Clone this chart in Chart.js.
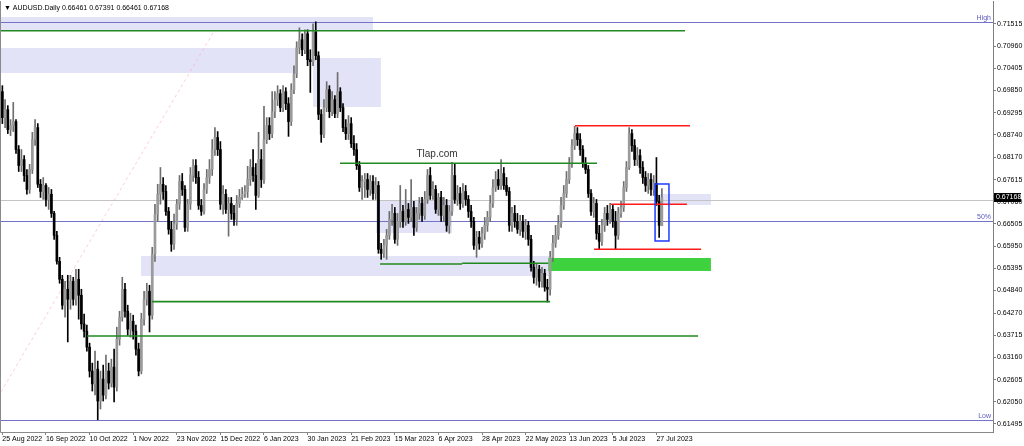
<!DOCTYPE html>
<html>
<head>
<meta charset="utf-8">
<script src="https://cdn.jsdelivr.net/npm/chart.js@4.4.0/dist/chart.umd.min.js"></script>
<style>
  html, body { margin: 0; padding: 0; background: #fff; }
  #wrap { width: 1024px; height: 446px; }
</style>
</head>
<body>
<div id="wrap"><canvas id="chart" width="1024" height="446"></canvas></div>
<script>
// AUDUSD daily candles, 25 Aug 2022 -> 1 Aug 2023
const opens = [
  0.6982, 0.6917, 0.6937, 0.6887, 0.6897, 0.6907, 0.6837, 0.6797, 0.6812, 0.6772,
  0.6737, 0.6787, 0.6862, 0.6892, 0.6750, 0.6732, 0.6747, 0.6712, 0.6725, 0.6677,
  0.6622, 0.6557, 0.6512, 0.6447, 0.6487, 0.6462, 0.6507, 0.6462, 0.6512, 0.6472,
  0.6400, 0.6382, 0.6342, 0.6282, 0.6250, 0.6287, 0.6207, 0.6262, 0.6222, 0.6282,
  0.6252, 0.6292, 0.6242, 0.6362, 0.6417, 0.6487, 0.6432, 0.6387, 0.6407, 0.6382,
  0.6337, 0.6282, 0.6412, 0.6462, 0.6482, 0.6422, 0.6575, 0.6675, 0.6725, 0.6750,
  0.6732, 0.6682, 0.6637, 0.6600, 0.6650, 0.6700, 0.6757, 0.6737, 0.6642, 0.6700,
  0.6772, 0.6797, 0.6767, 0.6697, 0.6682, 0.6737, 0.6767, 0.6787, 0.6837, 0.6867,
  0.6837, 0.6700, 0.6725, 0.6687, 0.6702, 0.6677, 0.6662, 0.6702, 0.6717, 0.6725,
  0.6732, 0.6762, 0.6792, 0.6772, 0.6722, 0.6812, 0.6762, 0.6862, 0.6897, 0.6877,
  0.6932, 0.6962, 0.6977, 0.6942, 0.6982, 0.6952, 0.6907, 0.6987, 0.7027, 0.7092,
  0.7112, 0.7087, 0.7127, 0.7062, 0.7057, 0.7132, 0.7072, 0.6925, 0.6875, 0.6942,
  0.6987, 0.6932, 0.6962, 0.6927, 0.6982, 0.6942, 0.6892, 0.6877, 0.6902, 0.6852,
  0.6837, 0.6797, 0.6742, 0.6757, 0.6762, 0.6737, 0.6757, 0.6727, 0.6747, 0.6587,
  0.6577, 0.6597, 0.6622, 0.6662, 0.6677, 0.6612, 0.6657, 0.6682, 0.6657, 0.6687,
  0.6667, 0.6692, 0.6642, 0.6677, 0.6702, 0.6672, 0.6712, 0.6772, 0.6722, 0.6737,
  0.6687, 0.6717, 0.6672, 0.6697, 0.6647, 0.6682, 0.6772, 0.6712, 0.6727, 0.6702,
  0.6732, 0.6712, 0.6682, 0.6657, 0.6597, 0.6617, 0.6602, 0.6627, 0.6647, 0.6667,
  0.6702, 0.6742, 0.6762, 0.6747, 0.6777, 0.6747, 0.6732, 0.6647, 0.6677, 0.6657,
  0.6637, 0.6657, 0.6632, 0.6647, 0.6612, 0.6542, 0.6517, 0.6537, 0.6507, 0.6527,
  0.6492, 0.6487, 0.6567, 0.6602, 0.6622, 0.6652, 0.6697, 0.6727, 0.6762, 0.6802,
  0.6847, 0.6877, 0.6862, 0.6837, 0.6802, 0.6787, 0.6727, 0.6682, 0.6702, 0.6627,
  0.6607, 0.6647, 0.6677, 0.6662, 0.6687, 0.6657, 0.6622, 0.6677, 0.6692, 0.6742,
  0.6792, 0.6877, 0.6847, 0.6812, 0.6822, 0.6792, 0.6767, 0.6747, 0.6762, 0.6737,
  0.6752, 0.6707, 0.66461
];
const highs = [
  0.6997, 0.6962, 0.6947, 0.6912, 0.6955, 0.6912, 0.6847, 0.6837, 0.6822, 0.6787,
  0.6800, 0.6880, 0.6912, 0.6902, 0.6762, 0.6767, 0.6752, 0.6742, 0.6737, 0.6682,
  0.6632, 0.6567, 0.6522, 0.6507, 0.6522, 0.6522, 0.6517, 0.6537, 0.6537, 0.6487,
  0.6425, 0.6397, 0.6352, 0.6302, 0.6332, 0.6307, 0.6282, 0.6297, 0.6322, 0.6302,
  0.6312, 0.6337, 0.6392, 0.6432, 0.6517, 0.6502, 0.6447, 0.6427, 0.6422, 0.6397,
  0.6352, 0.6427, 0.6482, 0.6502, 0.6497, 0.6592, 0.6700, 0.6750, 0.6792, 0.6767,
  0.6747, 0.6692, 0.6657, 0.6675, 0.6712, 0.6772, 0.6777, 0.6747, 0.6712, 0.6792,
  0.6812, 0.6812, 0.6782, 0.6712, 0.6752, 0.6787, 0.6812, 0.6862, 0.6892, 0.6882,
  0.6857, 0.6747, 0.6737, 0.6717, 0.6717, 0.6697, 0.6722, 0.6737, 0.6742, 0.6747,
  0.6795, 0.6812, 0.6837, 0.6802, 0.6880, 0.6837, 0.6945, 0.6917, 0.6917, 0.6982,
  0.6982, 0.6997, 0.6987, 0.6997, 0.6992, 0.6967, 0.7002, 0.7047, 0.7107, 0.7142,
  0.7127, 0.7137, 0.7137, 0.7087, 0.7152, 0.7157, 0.7082, 0.6937, 0.6962, 0.7007,
  0.6997, 0.6982, 0.6972, 0.7030, 0.6992, 0.6952, 0.6912, 0.6922, 0.6917, 0.6872,
  0.6852, 0.6807, 0.6772, 0.6777, 0.6777, 0.6772, 0.6772, 0.6767, 0.6757, 0.6602,
  0.6612, 0.6637, 0.6682, 0.6700, 0.6692, 0.6677, 0.6747, 0.6697, 0.6737, 0.6702,
  0.6762, 0.6707, 0.6692, 0.6717, 0.6717, 0.6732, 0.6787, 0.6792, 0.6757, 0.6747,
  0.6727, 0.6732, 0.6717, 0.6712, 0.6697, 0.6805, 0.6802, 0.6747, 0.6742, 0.6752,
  0.6747, 0.6722, 0.6697, 0.6667, 0.6632, 0.6632, 0.6642, 0.6667, 0.6682, 0.6722,
  0.6762, 0.6782, 0.6787, 0.6812, 0.6792, 0.6767, 0.6742, 0.6692, 0.6697, 0.6677,
  0.6672, 0.6672, 0.6662, 0.6657, 0.6622, 0.6557, 0.6552, 0.6547, 0.6542, 0.6537,
  0.6512, 0.6582, 0.6622, 0.6647, 0.6672, 0.6717, 0.6747, 0.6782, 0.6817, 0.6862,
  0.6895, 0.6892, 0.6877, 0.6847, 0.6817, 0.6797, 0.6737, 0.6717, 0.6712, 0.6647,
  0.6662, 0.6692, 0.6697, 0.6702, 0.6697, 0.6682, 0.6692, 0.6707, 0.6757, 0.6807,
  0.6892, 0.6887, 0.6862, 0.6842, 0.6837, 0.6807, 0.6782, 0.6777, 0.6777, 0.6772,
  0.6817, 0.6722, 0.67391
];
const lows = [
  0.6902, 0.6892, 0.6877, 0.6872, 0.6882, 0.6827, 0.6782, 0.6782, 0.6757, 0.6725,
  0.6727, 0.6777, 0.6847, 0.6742, 0.6717, 0.6712, 0.6695, 0.6687, 0.6667, 0.6612,
  0.6550, 0.6502, 0.6437, 0.6417, 0.6355, 0.6437, 0.6447, 0.6447, 0.6412, 0.6387,
  0.6367, 0.6332, 0.6267, 0.6232, 0.6222, 0.6160, 0.6187, 0.6207, 0.6212, 0.6237,
  0.6242, 0.6205, 0.6232, 0.6347, 0.6407, 0.6417, 0.6372, 0.6367, 0.6362, 0.6322,
  0.6270, 0.6275, 0.6397, 0.6447, 0.6380, 0.6412, 0.6557, 0.6657, 0.6700, 0.6712,
  0.6672, 0.6625, 0.6582, 0.6587, 0.6637, 0.6687, 0.6722, 0.6632, 0.6632, 0.6687,
  0.6757, 0.6752, 0.6687, 0.6672, 0.6675, 0.6727, 0.6752, 0.6772, 0.6822, 0.6822,
  0.6687, 0.6675, 0.6677, 0.6620, 0.6662, 0.6647, 0.6647, 0.6692, 0.6712, 0.6717,
  0.6717, 0.6747, 0.6757, 0.6687, 0.6717, 0.6742, 0.6752, 0.6852, 0.6862, 0.6867,
  0.6917, 0.6947, 0.6932, 0.6932, 0.6937, 0.6870, 0.6897, 0.6977, 0.7017, 0.7077,
  0.7072, 0.7077, 0.7047, 0.6980, 0.7047, 0.7062, 0.6912, 0.6855, 0.6867, 0.6932,
  0.6917, 0.6922, 0.6917, 0.6917, 0.6932, 0.6882, 0.6862, 0.6862, 0.6842, 0.6822,
  0.6787, 0.6732, 0.6712, 0.6717, 0.6717, 0.6722, 0.6712, 0.6712, 0.6577, 0.6562,
  0.6567, 0.6562, 0.6612, 0.6647, 0.6602, 0.6597, 0.6642, 0.6642, 0.6647, 0.6652,
  0.6657, 0.6622, 0.6632, 0.6662, 0.6657, 0.6662, 0.6702, 0.6712, 0.6712, 0.6677,
  0.6672, 0.6657, 0.6657, 0.6632, 0.6627, 0.6672, 0.6702, 0.6697, 0.6687, 0.6692,
  0.6697, 0.6667, 0.6642, 0.6587, 0.6567, 0.6587, 0.6592, 0.6612, 0.6632, 0.6657,
  0.6692, 0.6732, 0.6737, 0.6737, 0.6737, 0.6722, 0.6632, 0.6632, 0.6642, 0.6627,
  0.6622, 0.6617, 0.6612, 0.6597, 0.6532, 0.6502, 0.6497, 0.6492, 0.6492, 0.6482,
  0.6455, 0.6472, 0.6557, 0.6592, 0.6612, 0.6642, 0.6687, 0.6717, 0.6752, 0.6792,
  0.6837, 0.6847, 0.6822, 0.6792, 0.6777, 0.6717, 0.6672, 0.6667, 0.6612, 0.6587,
  0.6597, 0.6632, 0.6647, 0.6652, 0.6642, 0.6587, 0.6612, 0.6667, 0.6682, 0.6732,
  0.6787, 0.6832, 0.6797, 0.6797, 0.6777, 0.6752, 0.6732, 0.6727, 0.6722, 0.6722,
  0.6697, 0.6617, 0.66461
];
const closes = [
  0.6917, 0.6937, 0.6887, 0.6897, 0.6907, 0.6837, 0.6797, 0.6812, 0.6772, 0.6737,
  0.6787, 0.6862, 0.6892, 0.6750, 0.6732, 0.6747, 0.6712, 0.6725, 0.6677, 0.6622,
  0.6557, 0.6512, 0.6447, 0.6487, 0.6462, 0.6507, 0.6462, 0.6512, 0.6472, 0.6400,
  0.6382, 0.6342, 0.6282, 0.6250, 0.6287, 0.6207, 0.6262, 0.6222, 0.6282, 0.6252,
  0.6292, 0.6242, 0.6362, 0.6417, 0.6487, 0.6432, 0.6387, 0.6407, 0.6382, 0.6337,
  0.6282, 0.6412, 0.6462, 0.6482, 0.6422, 0.6575, 0.6675, 0.6725, 0.6750, 0.6732,
  0.6682, 0.6637, 0.6600, 0.6650, 0.6700, 0.6757, 0.6737, 0.6642, 0.6700, 0.6772,
  0.6797, 0.6767, 0.6697, 0.6682, 0.6737, 0.6767, 0.6787, 0.6837, 0.6867, 0.6837,
  0.6700, 0.6725, 0.6687, 0.6702, 0.6677, 0.6662, 0.6702, 0.6717, 0.6725, 0.6732,
  0.6762, 0.6792, 0.6772, 0.6722, 0.6812, 0.6762, 0.6862, 0.6897, 0.6877, 0.6932,
  0.6962, 0.6977, 0.6942, 0.6982, 0.6952, 0.6907, 0.6987, 0.7027, 0.7092, 0.7112,
  0.7087, 0.7127, 0.7062, 0.7057, 0.7132, 0.7072, 0.6925, 0.6875, 0.6942, 0.6987,
  0.6932, 0.6962, 0.6927, 0.6982, 0.6942, 0.6892, 0.6877, 0.6902, 0.6852, 0.6837,
  0.6797, 0.6742, 0.6757, 0.6762, 0.6737, 0.6757, 0.6727, 0.6747, 0.6587, 0.6577,
  0.6597, 0.6622, 0.6662, 0.6677, 0.6612, 0.6657, 0.6682, 0.6657, 0.6687, 0.6667,
  0.6692, 0.6642, 0.6677, 0.6702, 0.6672, 0.6712, 0.6772, 0.6722, 0.6737, 0.6687,
  0.6717, 0.6672, 0.6697, 0.6647, 0.6682, 0.6772, 0.6712, 0.6727, 0.6702, 0.6732,
  0.6712, 0.6682, 0.6657, 0.6597, 0.6617, 0.6602, 0.6627, 0.6647, 0.6667, 0.6702,
  0.6742, 0.6762, 0.6747, 0.6777, 0.6747, 0.6732, 0.6647, 0.6677, 0.6657, 0.6637,
  0.6657, 0.6632, 0.6647, 0.6612, 0.6542, 0.6517, 0.6537, 0.6507, 0.6527, 0.6492,
  0.6487, 0.6567, 0.6602, 0.6622, 0.6652, 0.6697, 0.6727, 0.6762, 0.6802, 0.6847,
  0.6877, 0.6862, 0.6837, 0.6802, 0.6787, 0.6727, 0.6682, 0.6702, 0.6627, 0.6607,
  0.6647, 0.6677, 0.6662, 0.6687, 0.6657, 0.6622, 0.6677, 0.6692, 0.6742, 0.6792,
  0.6877, 0.6847, 0.6812, 0.6822, 0.6792, 0.6767, 0.6747, 0.6762, 0.6737, 0.6752,
  0.6707, 0.6647, 0.67168
];

// date labels under the x axis, one every 16 bars
const tickLabels = [
  '25 Aug 2022', '16 Sep 2022', '10 Oct 2022', '1 Nov 2022', '23 Nov 2022', '15 Dec 2022',
  '6 Jan 2023', '30 Jan 2023', '21 Feb 2023', '15 Mar 2023', '6 Apr 2023', '28 Apr 2023',
  '22 May 2023', '13 Jun 2023', '5 Jul 2023', '27 Jul 2023'
];
const tickEvery = 16;
const priceTicks = [
  0.71515, 0.70960, 0.70405, 0.69850, 0.69295, 0.68740, 0.68170, 0.67615, 0.67060, 0.66505,
  0.65950, 0.65395, 0.64840, 0.64270, 0.63715, 0.63160, 0.62605, 0.62050, 0.61495
];
const emptyBars = 121; // free space right of the last candle

// bar dates (weekdays, like the terminal does)
const monthNames = ['Jan', 'Feb', 'Mar', 'Apr', 'May', 'Jun', 'Jul', 'Aug', 'Sep', 'Oct', 'Nov', 'Dec'];
const categories = [];
let day = new Date(2022, 7, 25);
while (categories.length < closes.length) {
  if (day.getDay() !== 0 && day.getDay() !== 6) {
    categories.push(day.getDate() + ' ' + monthNames[day.getMonth()] + ' ' + day.getFullYear());
  }
  day.setDate(day.getDate() + 1);
}
for (let i = 0; i < emptyBars; i++) categories.push('');

// drawn objects, in bar index / price units
const zones = [
  { from: -1, to: 136, top: 0.71690, bottom: 0.71340 },
  { from: -1, to: 108.1, top: 0.70914, bottom: 0.70288 },
  { from: 114, to: 138.9, top: 0.70663, bottom: 0.69436 },
  { from: 137.1, to: 165, top: 0.67106, bottom: 0.66280 },
  { from: 50.9, to: 200.6, top: 0.65703, bottom: 0.65202 },
  { from: 239.5, to: 260, top: 0.67257, bottom: 0.66981 }
];
const demandZone = { from: 200.3, to: 260, top: 0.65653, bottom: 0.65328 };
const signalBox = { from: 239.5, to: 244.6, top: 0.67507, bottom: 0.66079 };
const greenLines = [
  { from: -1, to: 250.5, price: 0.71347 },
  { from: 123.9, to: 218.2, price: 0.68026 },
  { from: 138.6, to: 168.7, price: 0.65503 },
  { from: 168.7, to: 200.3, price: 0.65521 },
  { from: 54.9, to: 201, price: 0.64559 },
  { from: 31.1, to: 255.3, price: 0.63699 }
];
const redLines = [
  { from: 210.1, to: 252.3, price: 0.68967 },
  { from: 223.3, to: 251.2, price: 0.66998 },
  { from: 217.1, to: 256.4, price: 0.65871 }
];
const trendLine = { from: -0.5, p1: 0.6230, to: 77.3, p2: 0.71290 };
const grayLevel = 0.67094;
const watermark = { text: 'Tlap.com', bar: 159.5, price: 0.68259 };

const fiboHigh = Math.max(...highs);
const fiboLow = Math.min(...lows);
const fiboLevels = [
  { price: fiboHigh, label: 'High' },
  { price: (fiboHigh + fiboLow) / 2, label: '50%' },
  { price: fiboLow, label: 'Low' }
];

const FONT = '"Liberation Sans", Arial, sans-serif';

const drawings = {
  id: 'drawings',
  beforeDatasetsDraw(chart) {
    const { ctx, chartArea: a, scales: { x, y } } = chart;
    ctx.save();
    ctx.beginPath();
    ctx.rect(a.left, a.top, a.right - a.left, a.bottom - a.top);
    ctx.clip();

    ctx.fillStyle = '#e3e3f8';
    zones.forEach(z => {
      const x1 = Math.max(a.left, x.getPixelForValue(z.from));
      const x2 = x.getPixelForValue(z.to);
      const y1 = y.getPixelForValue(z.top);
      const y2 = y.getPixelForValue(z.bottom);
      ctx.fillRect(x1, y1, x2 - x1, y2 - y1);
    });

    ctx.fillStyle = '#3ed23e';
    const gx1 = x.getPixelForValue(demandZone.from), gx2 = x.getPixelForValue(demandZone.to);
    const gy1 = y.getPixelForValue(demandZone.top), gy2 = y.getPixelForValue(demandZone.bottom);
    ctx.fillRect(gx1, gy1, gx2 - gx1, gy2 - gy1);

    // dashed pink trend line
    ctx.strokeStyle = 'rgba(255, 170, 180, 0.6)';
    ctx.lineWidth = 1;
    ctx.setLineDash([3, 3]);
    ctx.beginPath();
    ctx.moveTo(x.getPixelForValue(trendLine.from), y.getPixelForValue(trendLine.p1));
    ctx.lineTo(x.getPixelForValue(trendLine.to), y.getPixelForValue(trendLine.p2));
    ctx.stroke();
    ctx.setLineDash([]);

    // gray level and fibo lines
    const hline = (price, color, width) => {
      const py = Math.round(y.getPixelForValue(price)) + 0.5;
      ctx.strokeStyle = color;
      ctx.lineWidth = width;
      ctx.beginPath();
      ctx.moveTo(a.left, py);
      ctx.lineTo(a.right, py);
      ctx.stroke();
      return py;
    };
    hline(grayLevel, '#c4c4c4', 1);
    ctx.font = '7px ' + FONT;
    ctx.textAlign = 'right';
    ctx.textBaseline = 'bottom';
    fiboLevels.forEach(f => {
      const py = hline(f.price, '#7373c9', 1);
      ctx.fillStyle = '#5a5ac0';
      ctx.fillText(f.label, a.right - 2, py - 1);
    });
    ctx.restore();
  },
  afterDatasetsDraw(chart) {
    const { ctx, chartArea: a, scales: { x, y } } = chart;
    ctx.save();
    ctx.beginPath();
    ctx.rect(a.left, a.top, a.right - a.left, a.bottom - a.top);
    ctx.clip();

    const seg = (l, color, width) => {
      const py = y.getPixelForValue(l.price);
      ctx.strokeStyle = color;
      ctx.lineWidth = width;
      ctx.beginPath();
      ctx.moveTo(Math.max(a.left, x.getPixelForValue(l.from)), py);
      ctx.lineTo(x.getPixelForValue(l.to), py);
      ctx.stroke();
    };
    greenLines.forEach(l => seg(l, '#208a20', 1.6));
    redLines.forEach(l => seg(l, '#ff1a1a', 1.6));

    ctx.strokeStyle = '#1f3cff';
    ctx.lineWidth = 1.5;
    const bx1 = x.getPixelForValue(signalBox.from), bx2 = x.getPixelForValue(signalBox.to);
    const by1 = y.getPixelForValue(signalBox.top), by2 = y.getPixelForValue(signalBox.bottom);
    ctx.strokeRect(bx1, by1, bx2 - bx1, by2 - by1);

    ctx.fillStyle = '#333';
    ctx.font = '10px ' + FONT;
    ctx.textAlign = 'center';
    ctx.textBaseline = 'middle';
    ctx.fillText(watermark.text, x.getPixelForValue(watermark.bar), y.getPixelForValue(watermark.price));

    // header
    ctx.fillStyle = '#000';
    ctx.font = '7px ' + FONT;
    ctx.textAlign = 'left';
    const last = closes.length - 1;
    ctx.fillText('\u25BC AUDUSD.Daily ' + [opens[last], highs[last], lows[last], closes[last]].map(v => v.toFixed(5)).join(' '), 4, 8);
    ctx.restore();

    // chart frame
    ctx.save();
    ctx.strokeStyle = '#8a8a8a';
    ctx.lineWidth = 1;
    ctx.beginPath();
    ctx.moveTo(a.left - 0.5, a.top);
    ctx.lineTo(a.left - 0.5, a.bottom + 0.5);
    ctx.lineTo(a.right, a.bottom + 0.5);
    ctx.stroke();
    ctx.restore();
  },
  afterDraw(chart) {
    const { ctx, chartArea: a, scales: { y } } = chart;
    const last = closes[closes.length - 1];
    const py = y.getPixelForValue(last);
    ctx.save();
    ctx.fillStyle = '#000';
    ctx.fillRect(a.right + 1, py - 4.5, 27, 9);
    ctx.fillStyle = '#fff';
    ctx.font = '7px ' + FONT;
    ctx.textAlign = 'left';
    ctx.textBaseline = 'middle';
    ctx.fillText(last.toFixed(5), a.right + 3, py);
    ctx.restore();
  }
};

const isBull = i => closes[i] >= opens[i];

new Chart(document.getElementById('chart'), {
  type: 'bar',
  data: {
    labels: categories,
    datasets: [
      {
        label: 'body',
        data: opens.map((o, i) => [o, closes[i]]),
        backgroundColor: c => isBull(c.dataIndex) ? '#9a9a9a' : '#000000',
        barThickness: 2,
        minBarLength: 1,
        grouped: false
      },
      {
        label: 'wick',
        data: lows.map((l, i) => [l, highs[i]]),
        backgroundColor: c => isBull(c.dataIndex) ? '#6e6e6e' : '#000000',
        barThickness: 1,
        grouped: false
      }
    ]
  },
  options: {
    responsive: false,
    devicePixelRatio: 1,
    animation: false,
    layout: { padding: { left: 1, top: 1, right: 0, bottom: 0 } },
    plugins: { legend: { display: false }, tooltip: { enabled: false } },
    scales: {
      x: {
        type: 'category',
        offset: true,
        afterFit: s => { s.height = 14; s.paddingLeft = 0; s.paddingRight = 0; },
        grid: { drawOnChartArea: false, offset: false, tickLength: 3, color: '#808080' },
        border: { color: '#808080' },
        ticks: {
          autoSkip: false,
          maxRotation: 0,
          minRotation: 0,
          align: 'start',
          padding: 0,
          color: '#000',
          font: { family: FONT, size: 7 },
          callback: (v, i) => (i % tickEvery === 0 && i / tickEvery < tickLabels.length) ? tickLabels[i / tickEvery] : null
        }
      },
      y: {
        type: 'linear',
        position: 'right',
        min: 0.61294,
        max: 0.72091,
        afterBuildTicks: s => { s.ticks = priceTicks.map(v => ({ value: v })); },
        afterFit: s => { s.width = 31; s.paddingTop = 0; s.paddingBottom = 0; },
        grid: { drawOnChartArea: false, tickLength: 3, color: '#808080' },
        border: { color: '#808080' },
        ticks: {
          padding: 1,
          color: '#000',
          font: { family: FONT, size: 7 },
          callback: v => v.toFixed(5)
        }
      }
    }
  },
  plugins: [drawings]
});
</script>
</body>
</html>
